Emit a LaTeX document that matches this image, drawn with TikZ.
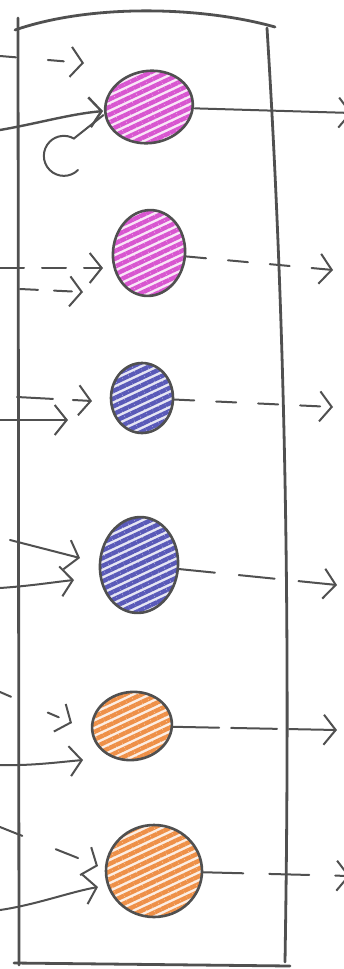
\documentclass[tikz,border=0pt]{standalone}
\usetikzlibrary{shapes.geometric,arrows.meta,patterns.meta,positioning}
\definecolor{inkgray}{HTML}{505050}
\definecolor{cellmagenta}{HTML}{D856D0}
\definecolor{cellblue}{HTML}{5A5AB8}
\definecolor{cellorange}{HTML}{EE9048}

\begin{document}
\begin{tikzpicture}[
  x=1pt,y=-1pt,
  ink/.style={draw=inkgray,line width=2pt,line cap=round},
  frame/.style={ink,line width=2.8pt},
  cell/.style={ellipse,inner sep=0pt,draw=inkgray,line width=2.6pt,
    pattern={Lines[angle=25,distance=7pt,line width=4.4pt]},pattern color=#1,
    preaction={fill=#1!15}},
  link/.style={ink,-{Straight Barb[length=12pt,width=30pt]}},
  dashlink/.style={link,dash pattern=on 24pt off 18pt},
]
  \clip (0,0) rectangle (344,969);
  \fill[white] (0,0) rectangle (344,969);

  \draw[frame] (18,18) -- (19,965);
  \draw[frame] (15,30) .. controls (90,4) and (200,6) .. (275,27);
  \draw[frame] (267,28) .. controls (284,300) and (291,600) .. (285,962);
  \draw[frame] (14,963) -- (290,966);

  \node[cell=cellmagenta,minimum width=88pt,minimum height=72pt,rotate=10] (c1) at (149,107) {};
  \node[cell=cellmagenta,minimum width=72pt,minimum height=86pt,rotate=-6] (c2) at (149,253) {};
  \node[cell=cellblue,minimum width=62pt,minimum height=70pt] (c3) at (142,398) {};
  \node[cell=cellblue,minimum width=78pt,minimum height=96pt,rotate=-5] (c4) at (139,565) {};
  \node[cell=cellorange,minimum width=80pt,minimum height=68pt,rotate=8] (c5) at (132,726) {};
  \node[cell=cellorange,minimum width=96pt,minimum height=92pt] (c6) at (154,871) {};

  \coordinate (s1) at (0,56);   \coordinate (t1) at (84,63);
  \coordinate (i1) at (0,130);  \coordinate (l1) at (78,170);
  \coordinate (o1) at (352,113);
  \coordinate (i2a) at (0,268); \coordinate (t2a) at (103,268);
  \coordinate (i2b) at (20,289); \coordinate (t2b) at (83,292);
  \coordinate (o2) at (333,270);
  \coordinate (i3a) at (17,397); \coordinate (t3a) at (92,401);
  \coordinate (i3b) at (0,420); \coordinate (t3b) at (68,420);
  \coordinate (o3) at (333,407);
  \coordinate (i4a) at (10,540); \coordinate (t4a) at (80,558);
  \coordinate (i4b) at (0,588); \coordinate (t4b) at (74,580);
  \coordinate (o4) at (337,585);
  \coordinate (i5a) at (0,692); \coordinate (t5a) at (72,723);
  \coordinate (i5b) at (0,765); \coordinate (t5b) at (83,760);
  \coordinate (o5) at (337,730);
  \coordinate (i6a) at (0,827); \coordinate (t6a) at (98,866);
  \coordinate (i6b) at (0,910); \coordinate (t6b) at (98,887);
  \coordinate (o6) at (350,876);

  \draw[link,dash pattern=on 16pt off 32pt] (s1) -- (t1);
  \draw[link,line width=2.4pt] (i1) .. controls (40,123) and (70,114) .. (c1);
  \draw[ink] (l1) arc[start angle=45,end angle=300,radius=20] -- (c1.west);
  \draw[link] (c1) -- (o1);

  \draw[dashlink] (i2a) -- (t2a);
  \draw[dashlink,dash pattern=on 18pt off 16pt] (i2b) -- (t2b);
  \draw[dashlink,dash pattern=on 20pt off 22pt] (c2) -- (o2);

  \draw[dashlink,dash pattern=on 36pt off 20pt] (i3a) -- (t3a);
  \draw[link] (i3b) -- (t3b);
  \draw[dashlink,dash pattern=on 20pt off 22pt] (c3) -- (o3);

  \draw[link] (i4a) -- (t4a);
  \draw[link] (i4b) .. controls (30,586) and (55,582) .. (t4b);
  \draw[dashlink,dash pattern=on 36pt off 24pt] (c4) -- (o4);

  \draw[dashlink,dash pattern=on 12pt off 40pt] (i5a) -- (t5a);
  \draw[link] (i5b) .. controls (30,766) and (60,762) .. (t5b);
  \draw[dashlink,dash pattern=on 46pt off 12pt] (c5) -- (o5);

  \draw[dashlink,dash pattern=on 24pt off 36pt] (i6a) -- (t6a);
  \draw[link] (i6b) .. controls (35,905) and (70,892) .. (t6b);
  \draw[dashlink,dash pattern=on 40pt off 26pt] (c6) -- (o6);
\end{tikzpicture}
\end{document}
